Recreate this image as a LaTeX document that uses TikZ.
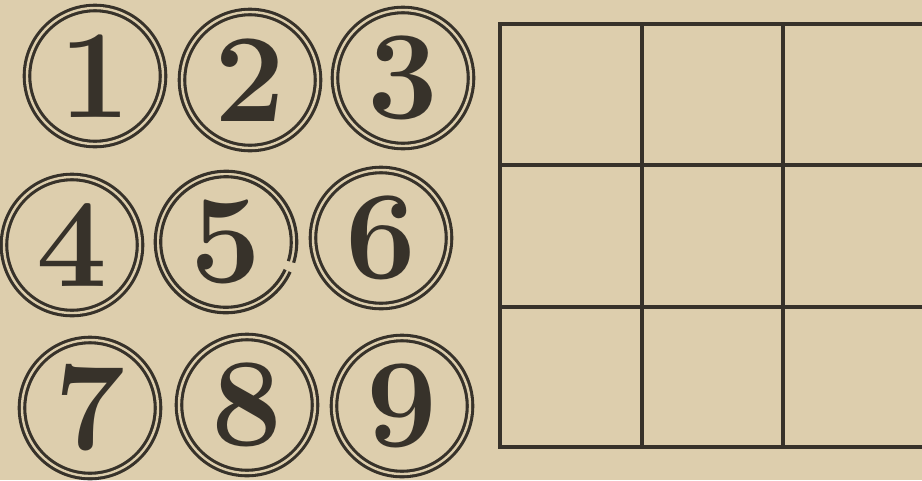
\documentclass[tikz,border=0pt]{standalone}
\usepackage{fontspec}
\definecolor{paper}{RGB}{221,206,173}
\definecolor{ink}{RGB}{55,50,42}
\begin{document}
\begin{tikzpicture}[x=1pt,y=-1pt,
  ring/.style={circle, draw=ink, line width=3.1pt, double=paper, double distance=2.4pt,
    minimum size=136pt, inner sep=0pt, text=ink,
    font=\fontsize{126}{126}\selectfont\bfseries},
  openring/.style={ring, draw=none, double=none},
  gridline/.style={draw=ink, line width=4pt, line cap=rect}]
\fill[paper] (0,0) rectangle (922,480);
\useasboundingbox (0,0) rectangle (922,480);
\clip (0,0) rectangle (922,480);
% numbered circles
\node[ring] (c1) at (95,76) {1};
\node[ring] (c2) at (250,80) {2};
\node[ring] (c3) at (403,78) {3};
\node[ring] (c4) at (72,245) {4};
\node[openring] (c5) at (226,242) {5};
\node[ring] (c6) at (381,238) {6};
\node[ring] (c7) at (90,408) {7};
\node[ring] (c8) at (247,405) {8};
\node[ring] (c9) at (402,406) {9};
% broken ring of 5
\draw[ink, line width=3.1pt] ([shift={(25:70.75)}]c5.center) arc[start angle=25, end angle=377, radius=70.75];
\draw[ink, line width=3.1pt] ([shift={(25:65.25)}]c5.center) arc[start angle=25, end angle=377, radius=65.25];
% grid
\draw[gridline] (500,24) rectangle (926,447);
\draw[gridline] (642,24) -- (642,447);
\draw[gridline] (783,24) -- (783,447);
\draw[gridline] (500,165) -- (926,165);
\draw[gridline] (500,307) -- (926,307);
\end{tikzpicture}
\end{document}
